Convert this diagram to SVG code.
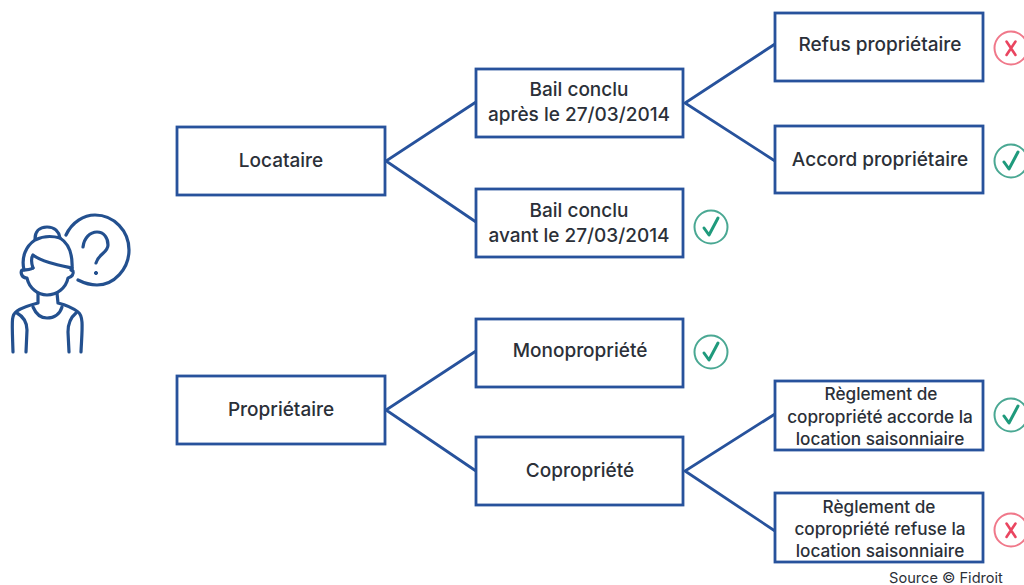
<svg xmlns="http://www.w3.org/2000/svg" width="1024" height="585" viewBox="0 0 1024 585">
<style>
.n{fill:#fff;stroke:#27529c;stroke-width:2.8}
.c{fill:none;stroke:#27529c;stroke-width:2.8;stroke-linecap:round}
text{font-family:"Inter","Liberation Sans",sans-serif;font-size:19px;font-weight:500;fill:#2b3038;text-anchor:middle}
.s{font-size:17.2px}
.ok{fill:none;stroke:#4aa893;stroke-width:2}
.okm{fill:none;stroke:#1f9a7c;stroke-width:3;stroke-linecap:round;stroke-linejoin:round}
.no{fill:none;stroke:#f0788a;stroke-width:2}
.nom{fill:none;stroke:#ea4560;stroke-width:2.6;stroke-linecap:round}
.p{fill:none;stroke:#23508f;stroke-width:3.2;stroke-linecap:round;stroke-linejoin:round}
</style>
<defs>
<g id="yes"><circle class="ok" r="16.5"/><path class="okm" d="M-7,1 L-2,8 L7,-9"/></g>
<g id="nope"><circle class="no" r="16.5"/><path class="nom" d="M-4.500,-6.500 L4.500,7 M4.500,-6.500 L-4.500,7"/></g>
</defs>
<g id="connectors">
<path class="c" d="M476,102 L386,161 L476,222"/>
<path class="c" d="M775,44 L685,103 L775,161"/>
<path class="c" d="M476,351 L386,410 L476,471"/>
<path class="c" d="M775,414 L685,471 L775,531"/>
</g>
<g id="persona">
<path class="p" d="M66,235 C72,222 84,215 95,215 C114,215 129,231 129,250 C129,269 114,285 97,285 C90,285 84,283 78,280"/>
<path class="p" d="M83,247 C84,238 90,232 97,232 C104,232 108,238 108,245 C108,253 98,254 96,263"/>
<circle cx="96" cy="273" r="1.6" fill="#23508f" stroke="#23508f"/>
<path class="p" d="M35,239 C35,232 39,227 47,227 C55,227 59,232 60,238"/>
<path class="p" d="M24,270 C21,257 26,246 35,240 C43,236 53,236 60,238 C68,243 73,254 72,270"/>
<path class="p" d="M33,268 C31,262 31,258 33,255 C42,262 58,265 72,268"/>
<path class="p" d="M33,268 C30,270 26,270 22,270 C20,273 22,278 27,278 C29,288 38,295 47,295 C57,295 66,288 68,278 C72,277 74,274 73,271 L71,270"/>
<path class="p" d="M38,293 V303 C30,305 23,307 17,311 C11,315 12,320 13,352"/>
<path class="p" d="M57,293 L58,303 C66,305 73,308 78,312 C84,316 82,330 81,352"/>
<path class="p" d="M33,307 C36,314 41,318 47,318 C54,318 60,314 62,307"/>
<path class="p" d="M17,313 C24,317 27,323 27,330 L26,352"/>
<path class="p" d="M76,313 C70,318 68,324 68,332 L69,352"/>
</g>
<g id="locataire"><rect class="n" x="177" y="127" width="208" height="68"/><text x="281" y="167">Locataire</text></g>
<g id="proprietaire"><rect class="n" x="177" y="376" width="208" height="68"/><text x="281" y="416">Propriétaire</text></g>
<g id="bail-apres"><rect class="n" x="476" y="69" width="207" height="68"/><text x="579" y="96">Bail conclu</text><text x="579" y="121">après le 27/03/2014</text></g>
<g id="bail-avant"><rect class="n" x="476" y="189" width="207" height="68"/><text x="579" y="217">Bail conclu</text><text x="579" y="242">avant le 27/03/2014</text><use href="#yes" x="711" y="227"/></g>
<g id="monopropriete"><rect class="n" x="476" y="319" width="207" height="68"/><text x="580" y="357">Monopropriété</text><use href="#yes" x="711" y="352"/></g>
<g id="copropriete"><rect class="n" x="476" y="437" width="207" height="68"/><text x="580" y="477">Copropriété</text></g>
<g id="refus"><rect class="n" x="775" y="13" width="208" height="68"/><text x="880" y="51">Refus propriétaire</text><use href="#nope" x="1011" y="48"/></g>
<g id="accord"><rect class="n" x="775" y="126" width="208" height="67"/><text x="880" y="166">Accord propriétaire</text><use href="#yes" x="1011" y="161"/></g>
<g id="reglement-accorde"><rect class="n" x="775" y="381" width="208" height="69"/><text class="s" x="881" y="400">Règlement de</text><text class="s" x="880" y="423">copropriété accorde la</text><text class="s" x="880" y="445">location saisonniaire</text><use href="#yes" x="1011" y="415"/></g>
<g id="reglement-refuse"><rect class="n" x="775" y="493" width="208" height="69"/><text class="s" x="879" y="513">Règlement de</text><text class="s" x="880" y="535">copropriété refuse la</text><text class="s" x="880" y="557">location saisonniaire</text><use href="#nope" x="1011" y="530"/></g>
<text id="source" x="946" y="583" style="font-size:14.600px;font-weight:400">Source © Fidroit</text>
</svg>
